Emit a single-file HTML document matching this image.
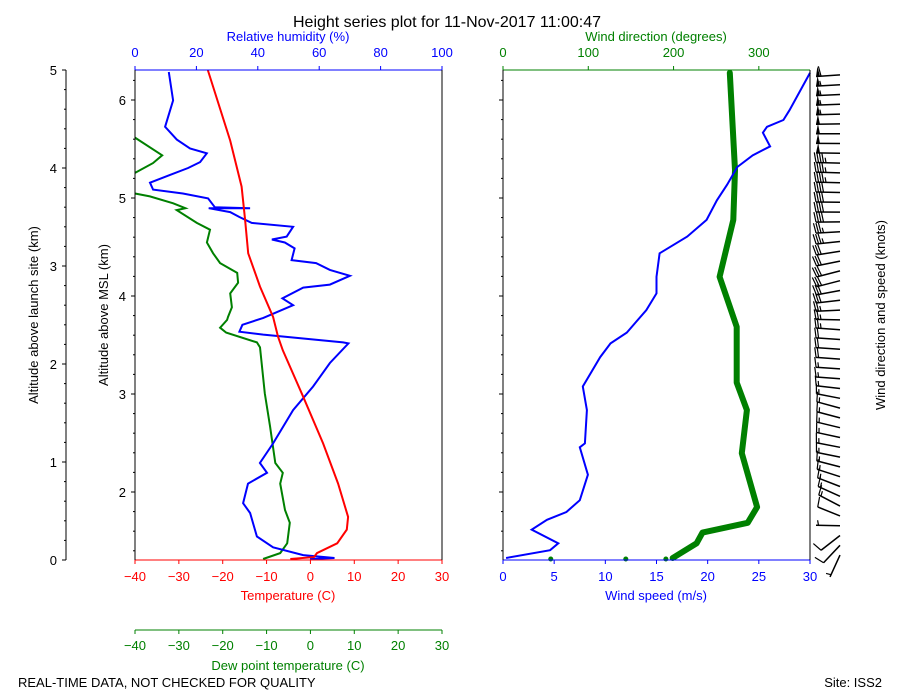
<!DOCTYPE html>
<html><head><meta charset="utf-8"><style>
html,body{margin:0;padding:0;background:#fff;}
svg{display:block;font-family:"Liberation Sans","DejaVu Sans",sans-serif;}
</style></head><body>
<svg id="chart" width="900" height="700" viewBox="0 0 900 700" xmlns="http://www.w3.org/2000/svg">
<rect width="900" height="700" fill="#fff"/>
<text x="447" y="27" font-size="16" text-anchor="middle">Height series plot for 11-Nov-2017 11:00:47</text>
<text x="18" y="687" font-size="13">REAL-TIME DATA, NOT CHECKED FOR QUALITY</text>
<text x="882" y="687" font-size="13" text-anchor="end">Site: ISS2</text>
<g id="g"></g>
</svg>
<script>
// ---- data (altitude above launch site, km) ----
const tempH = [5.0,4.28,3.81,3.47,3.13,2.79,2.48,2.28,2.14,1.67,1.19,0.78,0.44,0.31,0.17,0.07,0.03,0.01];
const tempV = [-23.4,-18.3,-15.7,-14.9,-14.2,-11.5,-8.5,-7.4,-6.3,-1.7,2.9,6.3,8.6,8.3,6.1,1.5,0.8,-4.6];
const dewH = [4.31,4.13,4.05,3.95,null,3.74,3.71,3.64,3.59,3.57,3.44,3.37,3.24,3.13,3.03,2.93,2.83,2.72,2.58,2.48,2.45,2.37,2.32,2.22,2.17,1.70,1.36,0.99,0.89,0.78,0.51,0.38,0.17,0.07,0.01];
const dewV = [-40,-33.8,-35.9,-40,null,-40,-36.6,-31.3,-28.5,-30.5,-25.9,-22.9,-23.6,-22.2,-20.6,-16.7,-16.5,-18.3,-17.9,-18.8,-19,-20.6,-19.2,-12.2,-11.5,-10.4,-9.2,-8,-6.3,-6.9,-5.8,-4.7,-5.3,-6.9,-10.8];
const rhH = [4.98,4.69,4.42,4.29,4.2,4.15,4.06,4.0,3.93,3.85,3.78,3.74,3.69,3.6,3.59,3.59,3.55,3.5,3.44,3.4,3.3,3.27,3.24,3.18,3.06,3.03,2.96,2.9,2.81,2.78,2.67,2.6,2.47,2.4,2.33,2.3,2.22,2.21,2.01,1.77,1.53,1.19,0.99,0.89,0.78,0.58,0.48,0.24,0.13,0.05,0.02,0.01];
const rhV = [11,12.4,9.8,13.6,17.9,23.4,21.2,17.3,11.4,4.9,5.9,15.6,23.8,26,37.5,24,31,34,38,51.5,49.4,44.6,48.8,52,51,59,63.5,70,63.5,54.8,48,51.5,41.8,35,34,41.8,67.8,69.5,63.5,58,51.5,45,40.7,43,36.8,35.2,37.5,39.7,45,54.8,65,57];
const wsH = [4.97,4.59,4.49,4.42,4.36,4.22,4.13,4.01,3.83,3.67,3.47,3.3,3.13,2.89,2.72,2.55,2.32,2.21,2.07,1.77,1.53,1.19,1.15,0.87,0.61,0.49,0.41,0.31,0.17,0.1,0.02];
const wsV = [30,28,27.4,25.8,25.4,26.1,24.4,22.9,21.9,20.9,19.9,18,15.3,15,15,14,12.1,10.5,9.5,7.8,8.2,8,7.5,8.3,7.5,6.2,4.3,2.8,5.4,4.6,0.3];
const wdH = [4.97,3.98,3.47,2.89,2.38,1.81,1.53,1.09,0.54,0.38,0.28,0.17,0.02];
const wdV = [266,272,270,254,274,274,286,280,298,287,234,227,199];
const wdDotV = [191,144,56];
const tempTicks = [-40,-30,-20,-10,0,10,20,30];
const rhTicks = [0,20,40,60,80,100];
const wsTicks = [0,5,10,15,20,25,30];
const wdTicks = [0,100,200,300];
const launchTicks = [0,1,2,3,4,5];
const mslTicks = [2,3,4,5,6];
const mslOffset = 1.306;

// ---- scales ----
const Y = h => 560 - h*98;
const XT = t => 135 + (t+40)*307/70;
const XRH = r => 135 + r*3.07;
const XWS = s => 503 + s*307/30;
const XWD = d => 503 + d*307/360;
const NS = "http://www.w3.org/2000/svg";
const G = document.getElementById('g');
function mk(tag, attrs, parent){const e=document.createElementNS(NS,tag);for(const k in attrs)e.setAttribute(k,attrs[k]);(parent||G).appendChild(e);return e;}
function txt(x,y,s,col,anchor,size,rot){const e=mk('text',{x:x,y:y,fill:col||'#000','font-size':size||13,'text-anchor':anchor||'middle'});if(rot)e.setAttribute('transform','rotate(-90 '+x+' '+y+')');e.textContent=s;return e;}
function pathFrom(H,V,xf){let d='',pen=false;for(let i=0;i<H.length;i++){if(H[i]===null){pen=false;continue;}d+=(pen?'L':'M')+xf(V[i]).toFixed(1)+','+Y(H[i]).toFixed(1);pen=true;}return d;}

// ---- series left panel ----
let e;
e=mk('path',{d:pathFrom(dewH,dewV,XT),fill:'none',stroke:'#008000','stroke-width':2});

e=mk('path',{d:pathFrom(rhH,rhV,XRH),fill:'none',stroke:'#0000ff','stroke-width':2});

e=mk('path',{d:pathFrom(tempH,tempV,XT),fill:'none',stroke:'#ff0000','stroke-width':2});


// ---- series right panel ----
e=mk('path',{d:pathFrom(wdH,wdV,XWD),fill:'none',stroke:'#008000','stroke-width':6,'stroke-linejoin':'round','stroke-linecap':'round'});

wdDotV.forEach(v=>{const c=mk('circle',{cx:XWD(v),cy:559,r:2.5,fill:'#008000'});

});
e=mk('path',{d:pathFrom(wsH,wsV,XWS),fill:'none',stroke:'#0000ff','stroke-width':2});


// ---- frames ----
function line(x1,y1,x2,y2,c,w){return mk('line',{x1:x1,y1:y1,x2:x2,y2:y2,stroke:c,'stroke-width':w||1});}
line(135,70,442,70,'#0000ff');line(135,560,442,560,'#ff0000');line(135,70,135,560,'#000');line(442,70,442,560,'#000');
line(503,70,810,70,'#008000');line(503,560,810,560,'#0000ff');line(503,70,503,560,'#000');line(810,70,810,560,'#000');
line(66,70,66,560,'#000');
launchTicks.forEach(v=>{line(62,Y(v),66,Y(v),'#000');txt(57,Y(v)+5,String(v),'#000','end');});
for(let v=0.2;v<5;v+=0.2){if(Math.abs(v-Math.round(v))>0.01)line(64,Y(v),66,Y(v),'#000');}
txt(38,315,'Altitude above launch site (km)','#000','middle',13,true);
mslTicks.forEach(v=>{const y=Y(v-mslOffset);line(131,y,135,y,'#000');line(499,y,503,y,'#000');txt(126,y+5,String(v),'#000','end');});
for(let k=7;k<32;k++){const v=k/5;const y=Y(v-mslOffset);if(y<70||y>560)continue;if(k%5===0)continue;line(133,y,135,y,'#000');line(501,y,503,y,'#000');}
txt(108,315,'Altitude above MSL (km)','#000','middle',13,true);
tempTicks.forEach(v=>{line(XT(v),560,XT(v),564,'#ff0000');txt(XT(v),581,String(v).replace('-','\u2212'),'#ff0000');});
txt(288,600,'Temperature (C)','#ff0000');
line(135,630,442,630,'#008000');
tempTicks.forEach(v=>{line(XT(v),630,XT(v),634,'#008000');txt(XT(v),650,String(v).replace('-','\u2212'),'#008000');});
txt(288,670,'Dew point temperature (C)','#008000');
rhTicks.forEach(v=>{line(XRH(v),66,XRH(v),70,'#0000ff');txt(XRH(v),57,String(v),'#0000ff');});
txt(288,41,'Relative humidity (%)','#0000ff');
wsTicks.forEach(v=>{line(XWS(v),560,XWS(v),564,'#0000ff');txt(XWS(v),581,String(v),'#0000ff');});
txt(656,600,'Wind speed (m/s)','#0000ff');
wdTicks.forEach(v=>{line(XWD(v),66,XWD(v),70,'#008000');txt(XWD(v),57,String(v),'#008000');});
txt(656,41,'Wind direction (degrees)','#008000');
txt(885,315,'Wind direction and speed (knots)','#000','middle',13,true);

// ---- wind barbs ----
function interp(H,V,h){for(let i=0;i<H.length-1;i++){const a=H[i],b=H[i+1];if((h<=a&&h>=b)||(h>=a&&h<=b)){const t=(h-a)/((b-a)||1);return V[i]+t*(V[i+1]-V[i]);}}return V[V.length-1];}
const barbG=mk('g',{});


for(let k=0;k<50;k++){
  const h=0.05+k*0.1;
  const sp=interp(wsH,wsV,h)*1.944;
  const d=interp(wdH,wdV,h)*Math.PI/180;
  const ox=840, oy=Y(h);
  const ux=Math.sin(d), uy=-Math.cos(d);
  const px=-uy, py=ux;
  const L=24;
  const bg=mk('g',{},barbG);
  
  
  mk('line',{x1:ox,y1:oy,x2:ox+ux*L,y2:oy+uy*L,stroke:'#000','stroke-width':1.5},bg);
  let rem=Math.round(sp/5)*5; let pos=L;
  const pen=Math.floor(rem/50); rem-=pen*50;
  for(let i=0;i<pen;i++){
    const ax=ox+ux*pos, ay=oy+uy*pos, bx=ox+ux*(pos-4), by=oy+uy*(pos-4);
    mk('polygon',{points:ax+','+ay+' '+(ax-ux*2+px*10)+','+(ay-uy*2+py*10)+' '+bx+','+by,fill:'#000'},bg);
    pos-=5;
  }
  const full=Math.floor(rem/10); rem-=full*10;
  for(let i=0;i<full;i++){
    const ax=ox+ux*pos, ay=oy+uy*pos;
    mk('line',{x1:ax,y1:ay,x2:ax+ux*2+px*10,y2:ay+uy*2+py*10,stroke:'#000','stroke-width':1.2},bg);
    pos-=2.5;
  }
  if(rem>=5){
    if(pen+full===0)pos-=2.5;
    const ax=ox+ux*pos, ay=oy+uy*pos;
    mk('line',{x1:ax,y1:ay,x2:ax+ux*1+px*5,y2:ay+uy*1+py*5,stroke:'#000','stroke-width':1.2},bg);
  }
}
</script>
</body></html>
